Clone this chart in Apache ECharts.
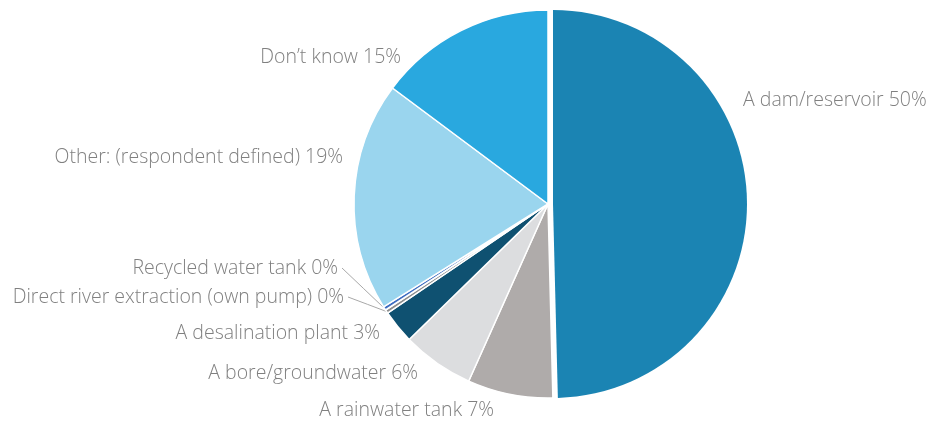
<!DOCTYPE html>
<html>
<head>
<meta charset="utf-8">
<title>Water sources</title>
<script src="https://cdn.jsdelivr.net/npm/echarts@6/dist/echarts.min.js"></script>
<style>
  html, body { margin: 0; padding: 0; background: #ffffff; }
  #chart { width: 928px; height: 427px; }
</style>
</head>
<body>
<div id="chart"></div>
<script>
// Main source of household water supply (share of respondents, %)
const categories = [
  'A dam/reservoir',
  'A rainwater tank',
  'A bore/groundwater',
  'A desalination plant',
  'Direct river extraction (own pump)',
  'Recycled water tank',
  'Other: (respondent defined)',
  'Don\u2019t know'
];
const shares = [49.6, 7.1, 6.0, 2.8, 0.3, 0.3, 19.1, 14.8];

// Slice colours, in category order
const sliceColors = ['#1b84b3', '#afabaa', '#dcdddf', '#0f5171', '#8e8e8e', '#3d6cc0', '#9ad5ee', '#29a8df'];

// Where each label sits: [x, y, align]
const labelAnchors = [
  [743, 100, 'left'],
  [494, 410, 'right'],
  [418, 373, 'right'],
  [380, 333, 'right'],
  [344, 297, 'right'],
  [338, 268, 'right'],
  [343, 157, 'right'],
  [401, 57, 'right']
];
// Slices whose label is joined to the slice by a leader line
const withLeader = [4, 5];
// The first slice is pulled out from the centre by this many pixels
const pulledSlice = 0;
const pullDistance = 5;

const pieCenter = [548, 204];
const pieRadius = 194;

const chart = echarts.init(document.getElementById('chart'), null, { renderer: 'canvas' });

const labelStyle = {
  show: true,
  position: 'outside',
  color: '#808080',
  fontFamily: 'Open Sans',
  fontWeight: 300,
  fontSize: 19.5,
  formatter: p => p.name + ' ' + Math.round(p.value) + '%'
};

// Base pie: every slice except the pulled one, plus all the labels
const baseData = categories.map((name, i) => ({
  name: name,
  value: shares[i],
  itemStyle: i === pulledSlice
    ? { color: 'rgba(0,0,0,0)', borderWidth: 0 }
    : { color: sliceColors[i] },
  labelLine: { show: withLeader.indexOf(i) >= 0 }
}));

// Overlay pie: only the pulled slice, shifted along its mid angle
const pulledData = categories.map((name, i) => ({
  name: name,
  value: shares[i],
  itemStyle: i === pulledSlice
    ? { color: sliceColors[i] }
    : { color: 'rgba(0,0,0,0)', borderWidth: 0 }
}));

// Mid angle of the pulled slice (clockwise from 12 o'clock)
const total = shares.reduce((s, v) => s + v, 0);
let before = 0;
for (let i = 0; i < pulledSlice; i++) before += shares[i];
const midAngle = (before + shares[pulledSlice] / 2) / total * 2 * Math.PI;
const pulledCenter = [
  pieCenter[0] + pullDistance * Math.sin(midAngle),
  pieCenter[1] - pullDistance * Math.cos(midAngle)
];

chart.setOption({
  animation: false,
  series: [{
    type: 'pie',
    center: pieCenter,
    radius: pieRadius,
    startAngle: 90,
    clockwise: true,
    avoidLabelOverlap: false,
    itemStyle: { borderColor: '#ffffff', borderWidth: 1.5 },
    emphasis: { disabled: true },
    label: labelStyle,
    labelLine: {
      show: false,
      lineStyle: { color: '#a8a8a8', width: 1 }
    },
    labelLayout: function (params) {
      const a = labelAnchors[params.dataIndex];
      const out = { x: a[0], y: a[1], align: a[2], verticalAlign: 'middle' };
      if (withLeader.indexOf(params.dataIndex) >= 0 && params.labelLinePoints) {
        const rim = params.labelLinePoints[0];
        const end = [a[0] + 4, a[1]];
        out.labelLinePoints = [rim, [(rim[0] + end[0]) / 2, (rim[1] + end[1]) / 2], end];
      }
      return out;
    },
    data: baseData
  }, {
    type: 'pie',
    center: pulledCenter,
    radius: pieRadius,
    startAngle: 90,
    clockwise: true,
    silent: true,
    label: { show: false },
    labelLine: { show: false },
    emphasis: { disabled: true },
    data: pulledData
  }]
});
</script>
</body>
</html>
